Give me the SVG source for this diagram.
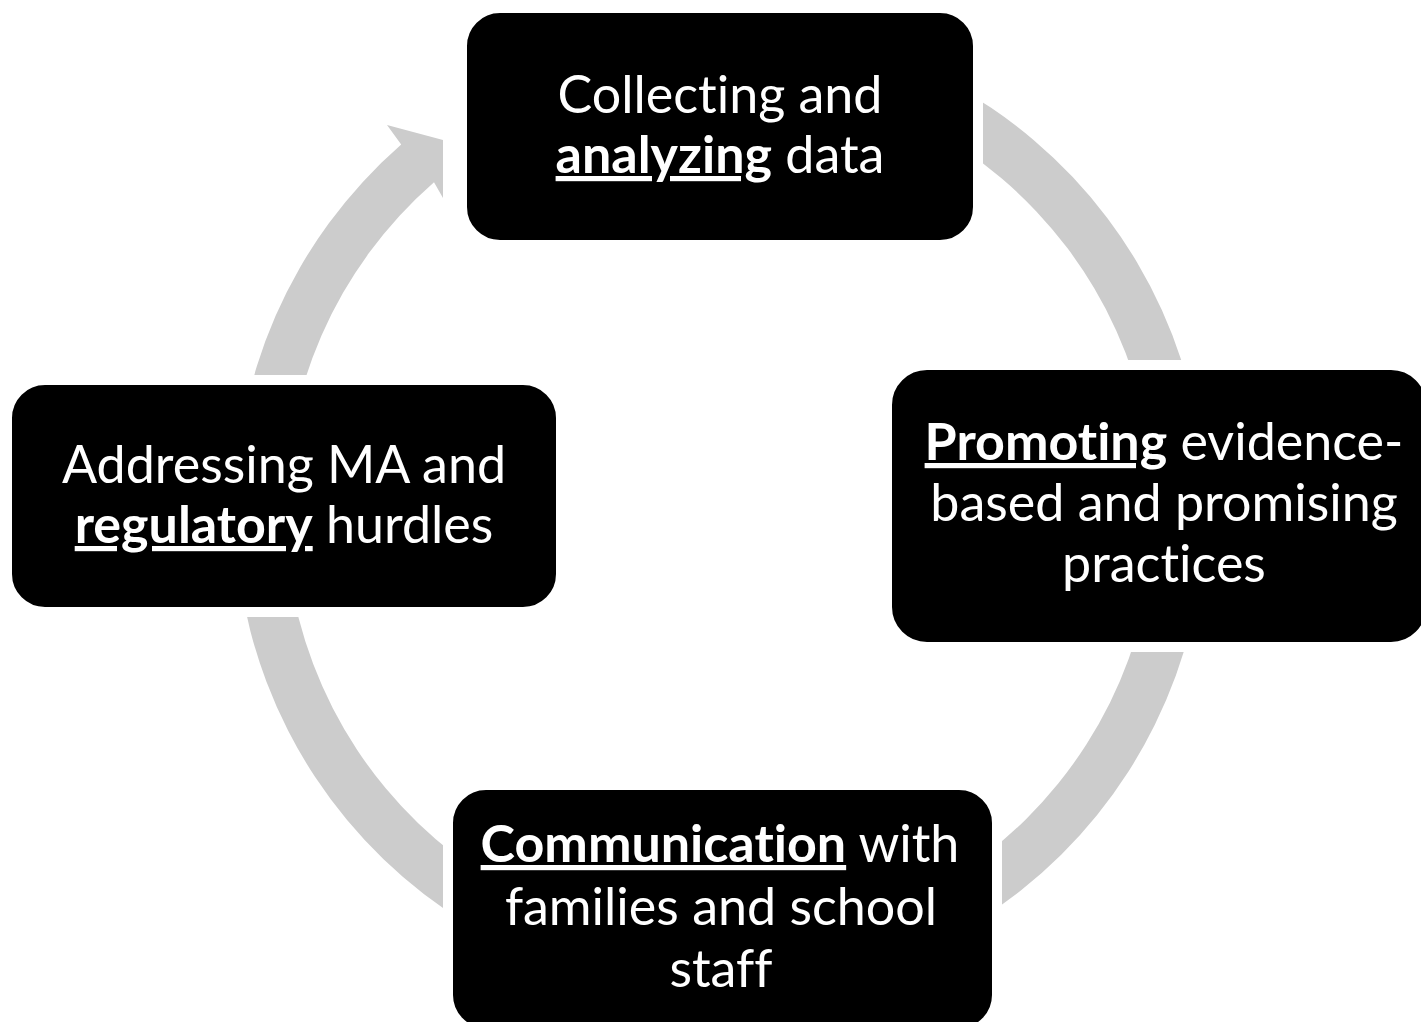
<svg xmlns="http://www.w3.org/2000/svg" width="1421" height="1022" viewBox="0 0 1421 1022">
<style>
.box{fill:#000;stroke:#fff;stroke-width:10}
.t{font-family:Lato,"Liberation Sans",sans-serif;font-size:52px;fill:#fff;text-anchor:middle;font-variant-ligatures:none;font-feature-settings:"liga" 0,"clig" 0}
.b{font-weight:bold;text-decoration:underline}
.ring{fill:#cccccc}
</style>
<rect width="1421" height="1022" fill="#fff"/>
<g id="connectors">
<path class="ring" d="M845.5,41.5 A485,485 0 1 1 401.2,144.5 L387,125 L443,140 L443,198 L434,182.2 A435,435 0 1 0 832.6,89.8 Z"/>
</g>
<g id="node-collecting">
<rect class="box" x="462" y="8" width="516" height="237" rx="38"/>
<text class="t" x="720" y="113">Collecting and</text>
<text class="t" x="720" y="173"><tspan class="b">analyzing</tspan> data</text>
</g>
<g id="node-promoting">
<rect class="box" x="887" y="365" width="544" height="282" rx="40"/>
<text class="t" x="1164" y="460"><tspan class="b">Promoting</tspan> evidence-</text>
<text class="t" x="1164" y="521">based and promising</text>
<text class="t" x="1164" y="582">practices</text>
</g>
<g id="node-communication">
<rect class="box" x="448" y="785" width="549" height="248" rx="38"/>
<text class="t" x="720" y="862"><tspan class="b">Communication</tspan> with</text>
<text class="t" x="721" y="925">families and school</text>
<text class="t" x="721" y="987">staff</text>
</g>
<g id="node-addressing">
<rect class="box" x="7" y="380" width="554" height="232" rx="38"/>
<text class="t" x="284" y="483">Addressing MA and</text>
<text class="t" x="284" y="543"><tspan class="b">regulatory</tspan> hurdles</text>
</g>
</svg>
